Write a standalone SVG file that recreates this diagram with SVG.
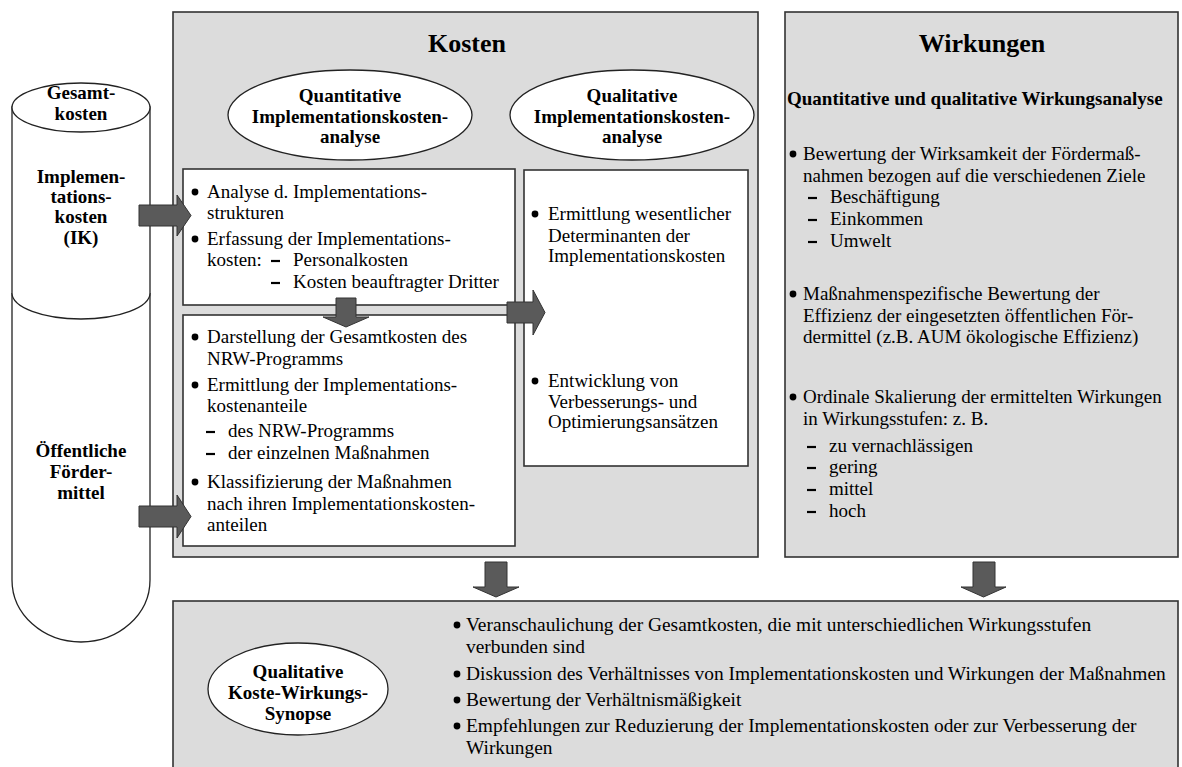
<svg xmlns="http://www.w3.org/2000/svg" width="1182" height="767" viewBox="0 0 1182 767">
<style>
  text { font-family: "Liberation Serif", "Times New Roman", serif; fill: #000; }
  .t { font-size: 19px; }
  .tb { font-size: 19.4px; }
  .b { font-size: 19px; font-weight: bold; }
  .c { text-anchor: middle; }
  .h { font-size: 26px; font-weight: bold; text-anchor: middle; }
  .panel { fill: #dcdcdc; stroke: #333; stroke-width: 1.6; }
  .box { fill: #fff; stroke: #333; stroke-width: 1.6; }
  .ell { fill: #fff; stroke: #222; stroke-width: 1.3; }
  .cyl { fill: #fff; stroke: #222; stroke-width: 1.3; }
  .arrow { fill: #5a5a5a; stroke: #333; stroke-width: 1; }
  .dot { fill: #000; }
  .dash { stroke: #000; stroke-width: 2.2; }
</style>
<defs>
  <circle id="bul" r="3.4" class="dot"/>
  <line id="dsh" x1="0" y1="0" x2="9" y2="0" class="dash"/>
</defs>

<g id="cylinder">
  <path class="cyl" d="M12,107 L12,580 A69,62 0 0 0 150,580 L150,107 Z"/>
  <ellipse class="cyl" cx="81" cy="107.5" rx="69" ry="24.5"/>
  <path class="cyl" d="M12,293 A69,26 0 0 0 150,293" fill="none"/>
  <text class="b c" x="81" y="99">Gesamt-</text>
  <text class="b c" x="81" y="120">kosten</text>
  <text class="b c" x="81" y="183">Implemen-</text>
  <text class="b c" x="81" y="203">tations-</text>
  <text class="b c" x="81" y="223">kosten</text>
  <text class="b c" x="81" y="244">(IK)</text>
  <text class="b c" x="81" y="457">Öffentliche</text>
  <text class="b c" x="81" y="478">Förder-</text>
  <text class="b c" x="81" y="499">mittel</text>
</g>

<g id="kosten">
  <rect class="panel" x="173" y="12" width="585" height="545"/>
  <text class="h" x="467" y="52">Kosten</text>
</g>

<g id="quant-ellipse">
  <ellipse class="ell" cx="350" cy="115" rx="122" ry="45"/>
  <text class="b c" x="350" y="102">Quantitative</text>
  <text class="b c" x="350" y="123">Implementationskosten-</text>
  <text class="b c" x="350" y="143">analyse</text>
</g>

<g id="qual-ellipse">
  <ellipse class="ell" cx="632" cy="115" rx="122" ry="45"/>
  <text class="b c" x="632" y="102">Qualitative</text>
  <text class="b c" x="632" y="123">Implementationskosten-</text>
  <text class="b c" x="632" y="143">analyse</text>
</g>

<g id="box1">
  <rect class="box" x="183" y="169" width="332" height="136"/>
  <use href="#bul" x="195" y="192"/>
  <text class="t" x="207" y="198">Analyse d. Implementations-</text>
  <text class="t" x="207" y="219">strukturen</text>
  <use href="#bul" x="195" y="239"/>
  <text class="t" x="207" y="245">Erfassung der Implementations-</text>
  <text class="t" x="207" y="266">kosten:</text>
  <use href="#dsh" x="271" y="261"/>
  <text class="t" x="293" y="266">Personalkosten</text>
  <use href="#dsh" x="271" y="283"/>
  <text class="t" x="293" y="288">Kosten beauftragter Dritter</text>
</g>

<g id="box2">
  <rect class="box" x="183" y="315" width="332" height="231"/>
  <use href="#bul" x="195" y="337"/>
  <text class="t" x="207" y="343">Darstellung der Gesamtkosten des</text>
  <text class="t" x="207" y="365">NRW-Programms</text>
  <use href="#bul" x="195" y="385"/>
  <text class="t" x="207" y="391">Ermittlung der Implementations-</text>
  <text class="t" x="207" y="412">kostenanteile</text>
  <use href="#dsh" x="206" y="432"/>
  <text class="t" x="228" y="437">des NRW-Programms</text>
  <use href="#dsh" x="206" y="454"/>
  <text class="t" x="228" y="459">der einzelnen Maßnahmen</text>
  <use href="#bul" x="195" y="482"/>
  <text class="t" x="207" y="488">Klassifizierung der Maßnahmen</text>
  <text class="t" x="207" y="510">nach ihren Implementationskosten-</text>
  <text class="t" x="207" y="531">anteilen</text>
</g>

<g id="box3">
  <rect class="box" x="524" y="170" width="224" height="296"/>
  <use href="#bul" x="535" y="214"/>
  <text class="t" x="548" y="220">Ermittlung wesentlicher</text>
  <text class="t" x="548" y="242">Determinanten der</text>
  <text class="t" x="548" y="262">Implementationskosten</text>
  <use href="#bul" x="535" y="381"/>
  <text class="t" x="548" y="387">Entwicklung von</text>
  <text class="t" x="548" y="408">Verbesserungs- und</text>
  <text class="t" x="548" y="428">Optimierungsansätzen</text>
</g>

<g id="wirkungen">
  <rect class="panel" x="785" y="12" width="393" height="545"/>
  <text class="h" x="982" y="52">Wirkungen</text>
  <text class="b" x="787" y="105">Quantitative und qualitative Wirkungsanalyse</text>
  <use href="#bul" x="793" y="154"/>
  <text class="t" x="803" y="160">Bewertung der Wirksamkeit der Fördermaß-</text>
  <text class="t" x="803" y="182">nahmen bezogen auf die verschiedenen Ziele</text>
  <use href="#dsh" x="808" y="198"/>
  <text class="t" x="830" y="203">Beschäftigung</text>
  <use href="#dsh" x="808" y="220"/>
  <text class="t" x="830" y="225">Einkommen</text>
  <use href="#dsh" x="808" y="242"/>
  <text class="t" x="830" y="247">Umwelt</text>
  <use href="#bul" x="793" y="294"/>
  <text class="t" x="803" y="300">Maßnahmenspezifische Bewertung der</text>
  <text class="t" x="803" y="322">Effizienz der eingesetzten öffentlichen För-</text>
  <text class="t" x="803" y="343">dermittel (z.B. AUM ökologische Effizienz)</text>
  <use href="#bul" x="793" y="397"/>
  <text class="t" x="803" y="403">Ordinale Skalierung der ermittelten Wirkungen</text>
  <text class="t" x="803" y="425">in Wirkungsstufen: z. B.</text>
  <use href="#dsh" x="807" y="447"/>
  <text class="t" x="829" y="452">zu vernachlässigen</text>
  <use href="#dsh" x="807" y="468"/>
  <text class="t" x="829" y="473">gering</text>
  <use href="#dsh" x="807" y="490"/>
  <text class="t" x="829" y="495">mittel</text>
  <use href="#dsh" x="807" y="512"/>
  <text class="t" x="829" y="517">hoch</text>
</g>

<g id="synopse">
  <rect class="panel" x="173" y="601" width="1005" height="180"/>
  <ellipse class="ell" cx="298" cy="689" rx="90" ry="46"/>
  <text class="b c" x="298" y="678">Qualitative</text>
  <text class="b c" x="298" y="699">Koste-Wirkungs-</text>
  <text class="b c" x="298" y="720">Synopse</text>
  <use href="#bul" x="457" y="625"/>
  <text class="tb" x="466" y="631">Veranschaulichung der Gesamtkosten, die mit unterschiedlichen Wirkungsstufen</text>
  <text class="tb" x="466" y="653">verbunden sind</text>
  <use href="#bul" x="457" y="674"/>
  <text class="tb" x="466" y="680">Diskussion des Verhältnisses von Implementationskosten und Wirkungen der Maßnahmen</text>
  <use href="#bul" x="457" y="700"/>
  <text class="tb" x="466" y="706">Bewertung der Verhältnismäßigkeit</text>
  <use href="#bul" x="457" y="726"/>
  <text class="tb" x="466" y="732">Empfehlungen zur Reduzierung der Implementationskosten oder zur Verbesserung der</text>
  <text class="tb" x="466" y="754">Wirkungen</text>
</g>

<g id="connectors">
  <polygon class="arrow" points="139,205 177,205 177,195 191,215.5 177,236 177,226 139,226"/>
  <polygon class="arrow" points="139,506 177,506 177,495 191,516.5 177,538 177,527 139,527"/>
  <polygon class="arrow" points="336,298 356,298 356,317 369,317 346,327 323,317 336,317"/>
  <polygon class="arrow" points="507,302 533,302 533,290 545,312.5 533,335 533,323 507,323"/>
  <polygon class="arrow" points="485,562 507,562 507,587 519,587 496,597 473,587 485,587"/>
  <polygon class="arrow" points="973,562 995,562 995,587 1006,587 983.5,597 961,587 973,587"/>
</g>
</svg>
